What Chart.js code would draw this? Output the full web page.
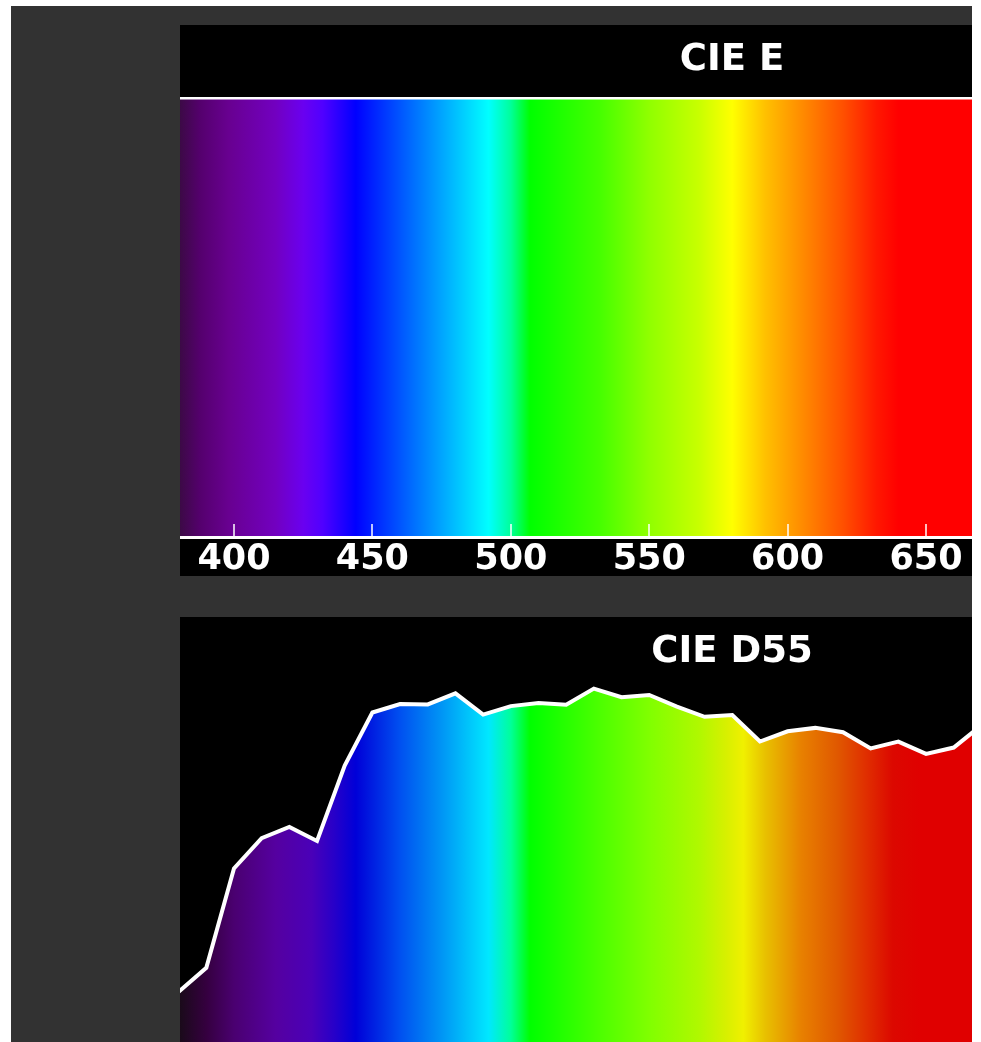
<!DOCTYPE html>
<html>
<head>
<meta charset="utf-8">
<script src="https://cdn.jsdelivr.net/npm/chart.js@4/dist/chart.umd.min.js"></script>
<style>
html,body{margin:0;padding:0;background:#fff;width:981px;height:1042px;overflow:hidden;}
#bg{position:absolute;left:11px;top:6px;width:961px;height:1036px;background:#323232;}
.panel{position:absolute;left:180px;width:792px;background:#000;overflow:hidden;}
#p1{top:25px;height:551px;}
#p2{top:617px;height:425px;}
.panel canvas{position:absolute;left:0;top:0;display:block;}
.title{position:absolute;left:552px;transform:translateX(-50%);white-space:nowrap;color:#fff;
  font-family:'DejaVu Sans',sans-serif;font-weight:bold;font-size:37px;line-height:37px;z-index:2;}
#t1{top:14px;}
#t2{top:14px;}
</style>
</head>
<body>
<div id="bg"></div>
<div class="panel" id="p1"><canvas id="c1" width="792" height="551"></canvas><div class="title" id="t1">CIE E</div></div>
<div class="panel" id="p2"><canvas id="c2" width="792" height="425"></canvas><div class="title" id="t2">CIE D55</div></div>
<script>
// ---- data ----
const wavelengths = [380,390,400,410,420,430,440,450,460,470,480,490,500,510,520,530,540,550,560,570,580,590,600,610,620,630,640,650,660,670];
const cieEValues  = [100,100,100,100,100,100,100,100,100,100,100,100,100,100,100,100,100,100,100,100,100,100,100,100,100,100,100,100,100,100];
const cieD55Values = [32.6,38.2,61.5,68.6,71.2,67.9,85.6,98.0,100.0,99.9,102.5,97.5,99.5,100.2,99.8,103.6,101.6,102.1,99.4,97.0,97.4,91.2,93.6,94.4,93.4,89.6,91.2,88.3,89.8,95.0];
const tickWavelengths = [400,450,500,550,600,650];

// ---- view ----
const xMin = 380.5, xMax = 666.6;

const spectrumStopsBright = [
  [380.5,'#3c0a46'],[388,'#55006e'],[398,'#680090'],[415,'#7200c0'],[425,'#6a00f0'],[432,'#5000ff'],
  [444,'#0000ff'],[460,'#0055ff'],[475,'#00a5ff'],[492,'#00ffff'],[500,'#00ff9a'],[507,'#00ff00'],
  [532,'#45ff00'],[550,'#90ff00'],[568,'#c8ff00'],[580,'#ffff00'],[592,'#ffc000'],[605,'#ff8c00'],
  [620,'#ff5000'],[632,'#ff1800'],[640,'#ff0000'],[667,'#ff0000']
];
const spectrumStopsDark = [
  [380.5,'#1a0a1a'],[390,'#35003f'],[400,'#4a0070'],[415,'#5500a0'],[428,'#4a00b8'],[436,'#2800c8'],
  [444,'#0000d8'],[460,'#0050f0'],[475,'#0095f5'],[492,'#00e8ff'],[500,'#00ff9a'],[507,'#00ff00'],
  [532,'#4cff00'],[550,'#80ff00'],[568,'#b0f800'],[578,'#d8f000'],[584,'#f0f000'],[592,'#e8c000'],
  [605,'#e88000'],[618,'#e05800'],[628,'#e03000'],[638,'#dc0800'],[648,'#e00000'],[667,'#e00000']
];

function makeGradient(chart, stops){
  const {ctx, chartArea, scales} = chart;
  if(!chartArea) return 'transparent';
  const xs = scales.x;
  const l = chartArea.left, r = chartArea.right;
  const g = ctx.createLinearGradient(l,0,r,0);
  stops.forEach(([nm,c])=>{
    let o = (xs.getPixelForValue(nm)-l)/(r-l);
    o = Math.min(1,Math.max(0,o));
    g.addColorStop(o,c);
  });
  return g;
}

const toPoints = (xs, ys) => xs.map((w,i)=>({x:w,y:ys[i]}));

new Chart(document.getElementById('c1'), {
  type:'line',
  data:{datasets:[{
    data: toPoints(wavelengths, cieEValues),
    borderColor:'#ffffff', borderWidth:5, pointRadius:0, tension:0,
    fill:'start',
    backgroundColor:(c)=>makeGradient(c.chart, spectrumStopsBright)
  }]},
  options:{
    responsive:false, animation:false, devicePixelRatio:1,
    layout:{autoPadding:false,padding:{top:72,left:0,right:0,bottom:0}},
    plugins:{legend:{display:false},tooltip:{enabled:false},title:{display:false}},
    scales:{
      x:{type:'linear',min:xMin,max:xMax,position:'bottom',
        afterBuildTicks:(s)=>{s.ticks = tickWavelengths.map(v=>({value:v}));},
        afterFit:(s)=>{s.height = 39; s.paddingLeft = 0; s.paddingRight = 0;},
        grid:{display:true,drawOnChartArea:false,drawTicks:true,tickLength:-13,color:'rgba(255,255,255,0.75)',lineWidth:2,z:1},
        border:{display:true,color:'#ffffff',width:3,z:1},
        ticks:{color:'#ffffff',font:{family:'DejaVu Sans',size:35,weight:'bold',lineHeight:1.2},padding:15,maxRotation:0,autoSkip:false}
      },
      y:{display:false,min:0,max:100}
    }
  }
});

new Chart(document.getElementById('c2'), {
  type:'line',
  data:{datasets:[{
    data: toPoints(wavelengths, cieD55Values),
    borderColor:'#ffffff', borderWidth:4, pointRadius:0, tension:0,
    fill:'start',
    backgroundColor:(c)=>makeGradient(c.chart, spectrumStopsDark)
  }]},
  options:{
    responsive:false, animation:false, devicePixelRatio:1,
    layout:{autoPadding:false,padding:0},
    plugins:{legend:{display:false},tooltip:{enabled:false},title:{display:false}},
    scales:{
      x:{type:'linear',display:false,min:xMin,max:xMax},
      y:{display:false,min:20.84,max:120.37}
    }
  }
});
</script>
</body>
</html>
